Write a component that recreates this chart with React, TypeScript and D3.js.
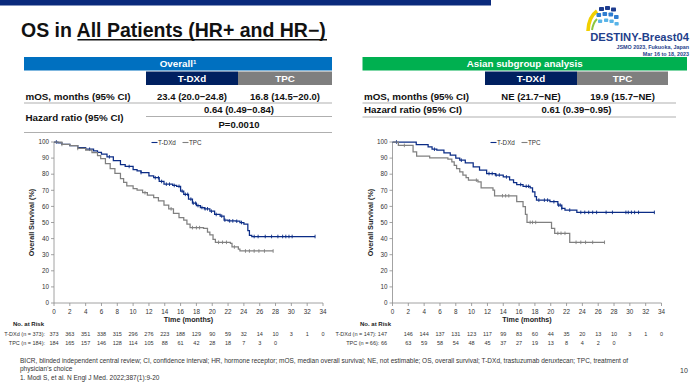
import React from "react";
import * as d3 from "d3";

const FONT = "'Liberation Sans', Arial, Helvetica, sans-serif";
const NAVY = "#0b2c86";
const GREY = "#808080";

const timeTicks = [0, 2, 4, 6, 8, 10, 12, 14, 16, 18, 20, 22, 24, 26, 28, 30, 32, 34];
const survTicks = [0, 10, 20, 30, 40, 50, 60, 70, 80, 90, 100];

// overall population, T-DXd (months / % alive)
const allTdxdTime = [0, 0.5, 1, 2, 3, 4, 5, 5.5, 6, 6.7, 7.5, 8.4, 9, 10, 10.5, 11, 12, 12.6, 13.3, 13.9, 15, 15.5, 16, 16.4, 17, 17.5, 18, 18.5, 19, 19.7, 20.3, 21, 21.5, 22, 23, 23.5, 24, 24.5, 24.7, 25];
const allTdxdSurv = [100, 99.5, 98.5, 97.8, 96.5, 95.5, 94.5, 93.5, 92.5, 90.8, 88.5, 86, 84.8, 82.8, 82, 81, 79, 77.8, 75.5, 73.8, 73, 72.5, 69.5, 67.5, 64.5, 62, 60.5, 59.3, 58.5, 57, 55, 54, 51.5, 51, 50.8, 50, 49, 45, 42, 41.3];
const allTdxdCensor = [0.3, 4.5, 7, 9.5, 11, 12.8, 13.2, 13.6, 14.2, 14.6, 15.2, 15.8, 16.2, 16.6, 16.9, 17.3, 17.6, 17.9, 18.2, 18.7, 19.1, 19.4, 19.9, 20.5, 21.2, 21.6, 22.2, 22.6, 23.1, 23.7, 25.3, 25.8, 26.7, 27.5, 28.3, 28.9, 29.3, 29.7, 30.1, 33];

// overall population, TPC
const allTpcTime = [0, 1, 2, 3, 4, 4.8, 5.5, 5.9, 6.5, 7.1, 7.7, 8.4, 8.8, 9.2, 10, 10.5, 11.2, 11.8, 12.6, 13.2, 13.9, 14.5, 15.1, 15.8, 16.4, 16.8, 17.2, 18.9, 19.4, 19.7, 20.1, 20.4, 22.3, 22.5, 23.3, 23.5];
const allTpcSurv = [100, 98.5, 97.8, 96, 95, 93.4, 91.5, 89.7, 86.5, 83.5, 80.5, 77.3, 75, 72.8, 71, 70.1, 68.5, 67, 65.4, 63.5, 60.8, 58.5, 55.7, 53, 51.5, 49, 46.8, 46.4, 44, 42.3, 39.5, 37.7, 37.1, 34.8, 33.5, 32.3];
const allTpcCensor = [1, 3, 11.5, 14.8, 17.5, 18, 18.4, 20.8, 21.3, 21.8, 22.8, 24.2, 24.7, 25.3, 25.9, 26.6, 27.7];

// Asian subgroup, T-DXd
const asiaTdxdTime = [0, 3, 4.5, 5, 5.6, 6.5, 7.3, 8, 8.5, 9.2, 10.2, 11, 11.9, 13, 14, 14.8, 15.3, 15.7, 16.5, 17.4, 17.7, 18, 18.2, 19.9, 20.9, 21.4, 21.8, 23.3];
const asiaTdxdSurv = [100, 98.4, 96.9, 95.5, 94.9, 93.2, 91.8, 90, 88.7, 87, 84.5, 82.5, 80.4, 79.5, 78.3, 76.5, 74.8, 73.6, 72.5, 71.5, 69, 66, 63.9, 62.9, 60.8, 58.8, 57.7, 56.3];
const asiaTdxdCensor = [0.5, 5.3, 8.7, 12.2, 12.6, 13.1, 13.5, 14.4, 16.2, 16.9, 17.2, 18.5, 19.2, 19.6, 20.4, 21, 21.2, 21.4, 22.4, 23.8, 24.3, 24.8, 25.3, 25.8, 27, 27.8, 29.5, 29.8, 30.2, 30.6, 31.1, 33.1];

// Asian subgroup, TPC
const asiaTpcTime = [0, 0.74, 2.6, 3.05, 4.7, 7, 7.5, 7.8, 8.1, 8.5, 8.9, 9.3, 9.6, 10.8, 11.2, 12.7, 12.9, 15.7, 16.5, 16.8, 17, 20.1, 20.5, 22.4];
const asiaTpcSurv = [100, 97.9, 93.8, 91.3, 90.1, 89.3, 87.6, 85.5, 83.5, 81.5, 79.4, 77.8, 76.3, 75.3, 71.5, 70.1, 66.6, 62.9, 59.8, 55, 50.1, 46.4, 43.3, 37.7];
const asiaTpcCensor = [1.5, 10.6, 13.9, 14.3, 14.7, 17.4, 17.7, 18.1, 20.9, 21.3, 21.8, 23.2, 23.8, 24.4, 25.3, 26.8];

const allTdxdRisk = [373, 363, 351, 338, 315, 296, 276, 223, 188, 129, 90, 59, 32, 14, 10, 3, 1, 0];
const allTpcRisk = [184, 165, 157, 146, 128, 114, 105, 88, 61, 42, 28, 18, 7, 3, 0];
const asiaTdxdRisk = [147, 146, 144, 137, 131, 123, 117, 99, 83, 60, 44, 35, 20, 13, 10, 3, 1, 0];
const asiaTpcRisk = [66, 63, 59, 58, 54, 48, 45, 37, 27, 19, 13, 8, 4, 2, 0];

type Curve = { time: number[]; surv: number[]; censor: number[]; color: string };

function survAt(c: Curve, t: number) {
  const i = d3.bisectRight(c.time, t) - 1;
  return c.surv[Math.max(0, i)];
}

function KmPanel(props: {
  x0: number;
  x1: number;
  curves: Curve[];
  risk: { label: string; values: number[] }[];
  legendX: number;
  yTitleX: number;
  noRiskX: number;
  labelEnd: number;
  joinFirst: boolean;
}) {
  const { x0, x1, curves, risk, legendX, yTitleX, noRiskX, labelEnd, joinFirst } = props;
  const x = d3.scaleLinear().domain([0, 34]).range([x0, x1]);
  const y = d3.scaleLinear().domain([0, 100]).range([303, 142]);
  const line = d3
    .line<[number, number]>()
    .x((d) => x(d[0]))
    .y((d) => y(d[1]))
    .curve(d3.curveStepAfter);
  const axisCol = "#8c8c8c";

  return (
    <g fontFamily={FONT}>
      {/* y axis */}
      <line x1={x0} x2={x0} y1={y(0)} y2={y(100)} stroke={axisCol} strokeWidth={0.8} />
      {survTicks.map((v) => (
        <g key={v}>
          <line x1={x0 - 3} x2={x0} y1={y(v)} y2={y(v)} stroke={axisCol} strokeWidth={0.8} />
          <text x={x0 - 5} y={y(v)} dy="0.35em" textAnchor="end" fontSize={6.3} fill="#333">
            {v}
          </text>
        </g>
      ))}
      {/* x axis */}
      <line x1={x0} x2={x1} y1={y(0)} y2={y(0)} stroke={axisCol} strokeWidth={0.8} />
      {timeTicks.map((t) => (
        <g key={t}>
          <line x1={x(t)} x2={x(t)} y1={y(0)} y2={y(0) + 3} stroke={axisCol} strokeWidth={0.8} />
          <text x={x(t)} y={y(0) + 8.5} dy="0.35em" textAnchor="middle" fontSize={6.3} fill="#333">
            {t}
          </text>
        </g>
      ))}
      <text x={(x0 + x1) / 2} y={319} dy="0.35em" textAnchor="middle" fontSize={7.2} fontWeight="bold" fill="#222">
        Time (months)
      </text>
      <text
        transform={`translate(${yTitleX},${(y(0) + y(100)) / 2}) rotate(-90)`}
        dy="0.35em"
        textAnchor="middle"
        fontSize={7.2}
        fontWeight="bold"
        fill="#222"
      >
        Overall Survival (%)
      </text>

      {/* curves */}
      {curves.map((c, k) => {
        const pts: [number, number][] = c.time.map((t, i) => [t, c.surv[i]]);
        const end = d3.max(c.censor) as number;
        pts.push([end, c.surv[c.surv.length - 1]]);
        return (
          <g key={k}>
            <path d={line(pts) || ""} fill="none" stroke={c.color} strokeWidth={1.25} />
            {c.censor.map((t, i) => (
              <line
                key={i}
                x1={x(t)}
                x2={x(t)}
                y1={y(survAt(c, t)) - 1.8}
                y2={y(survAt(c, t)) + 1.8}
                stroke={c.color}
                strokeWidth={0.9}
              />
            ))}
          </g>
        );
      })}

      {/* legend */}
      <g fontSize={6.3} fill="#333">
        <line x1={legendX} x2={legendX + 6} y1={142.5} y2={142.5} stroke={NAVY} strokeWidth={1.1} />
        <text x={legendX + 6.5} y={142.5} dy="0.35em">T-DXd</text>
        <line x1={legendX + 31} x2={legendX + 37} y1={142.5} y2={142.5} stroke={GREY} strokeWidth={1.1} />
        <text x={legendX + 37.5} y={142.5} dy="0.35em">TPC</text>
      </g>

      {/* numbers at risk */}
      <text x={noRiskX} y={324} dy="0.35em" fontSize={6} fontWeight="bold" fill="#222">
        No. at Risk
      </text>
      {risk.map((row, r) => {
        const ry = 334.5 + r * 9;
        return (
          <g key={r} fontSize={5.5} fill="#333">
            {joinFirst ? (
              <text x={labelEnd} y={ry} dy="0.35em" textAnchor="end">
                {`${row.label} ${row.values[0]}`}
              </text>
            ) : (
              <text x={labelEnd} y={ry} dy="0.35em" textAnchor="end">
                {row.label}
              </text>
            )}
            {row.values.map((v, i) =>
              joinFirst && i === 0 ? null : (
                <text key={i} x={x(timeTicks[i])} y={ry} dy="0.35em" textAnchor="middle">
                  {v}
                </text>
              )
            )}
          </g>
        );
      })}
    </g>
  );
}

function ResultTable(props: {
  x0: number;
  x1: number;
  c1: number;
  c2: number;
  c3: number;
  lineEnd: number;
  header: string;
  headerSup?: string;
  headerCol: string;
  mos: [string, string];
  hr: string;
  p?: string;
}) {
  const { x0, x1, c1, c2, c3, lineEnd, header, headerSup, headerCol, mos, hr, p } = props;
  const mid = (c1 + c3) / 2;
  return (
    <g fontFamily={FONT} fontWeight="bold">
      <rect x={x0} y={57} width={x1 - x0} height={13.5} fill={headerCol} />
      <text x={(x0 + x1) / 2} y={63.8} dy="0.35em" textAnchor="middle" fontSize={9.8} fill="#fff">
        {header}
        {headerSup ? <tspan fontSize={6} dy="-3.5">{headerSup}</tspan> : null}
      </text>
      <rect x={c1} y={71.5} width={c2 - c1} height={13.5} fill="#002060" />
      <rect x={c2} y={71.5} width={c3 - c2} height={13.5} fill="#7f7f7f" />
      <text x={(c1 + c2) / 2} y={78.3} dy="0.35em" textAnchor="middle" fontSize={9.8} fill="#fff">
        T-DXd
      </text>
      <text x={(c2 + c3) / 2} y={78.3} dy="0.35em" textAnchor="middle" fontSize={9.8} fill="#fff">
        TPC
      </text>
      <text x={x0 + 1.5} y={96.5} dy="0.35em" fontSize={9.8} fill="#111">
        mOS, months (95% CI)
      </text>
      <text x={(c1 + c2) / 2} y={96.5} dy="0.35em" textAnchor="middle" fontSize={9.5} fill="#111">
        {mos[0]}
      </text>
      <text x={(c2 + c3) / 2} y={96.5} dy="0.35em" textAnchor="middle" fontSize={9.5} fill="#111">
        {mos[1]}
      </text>
      <line x1={x0} x2={lineEnd} y1={103} y2={103} stroke="#a6a6a6" strokeWidth={0.9} />
      {p ? (
        <>
          <text x={x0 + 1.5} y={117.5} dy="0.35em" fontSize={9.8} fill="#111">
            Hazard ratio (95% CI)
          </text>
          <text x={mid} y={109.5} dy="0.35em" textAnchor="middle" fontSize={9.5} fill="#111">
            {hr}
          </text>
          <line x1={c1} x2={lineEnd} y1={116.5} y2={116.5} stroke="#a6a6a6" strokeWidth={0.9} />
          <text x={mid} y={124.8} dy="0.35em" textAnchor="middle" fontSize={9.5} fill="#111">
            {p}
          </text>
          <line x1={x0} x2={lineEnd} y1={132.5} y2={132.5} stroke="#a6a6a6" strokeWidth={0.9} />
        </>
      ) : (
        <>
          <text x={x0 + 1.5} y={110} dy="0.35em" fontSize={9.8} fill="#111">
            Hazard ratio (95% CI)
          </text>
          <text x={mid} y={110} dy="0.35em" textAnchor="middle" fontSize={9.5} fill="#111">
            {hr}
          </text>
          <line x1={x0} x2={lineEnd} y1={117} y2={117} stroke="#a6a6a6" strokeWidth={0.9} />
        </>
      )}
    </g>
  );
}

function Logo() {
  const navyBlocks: [number, number][] = [[599, 7], [605, 6], [611, 7.5]];
  const midBlocks: [number, number][] = [[596.5, 13], [602.5, 12], [608.5, 12.5], [614, 15]];
  const lightBlocks: [number, number][] = [[598, 19.5], [604, 18.5], [609.5, 19.5], [614.5, 22]];
  return (
    <g>
      <path d="M588,31 Q588.5,17 597,11" fill="none" stroke="#f2d000" strokeWidth={3.6} />
      <path d="M592,30 Q593,23 597,19" fill="none" stroke="#8cc63f" strokeWidth={2} />
      {navyBlocks.map(([bx, by], i) => (
        <rect key={"n" + i} x={bx} y={by} width={5} height={4} rx={0.8} fill="#1d3c8f" />
      ))}
      {midBlocks.map(([bx, by], i) => (
        <rect key={"m" + i} x={bx} y={by} width={4.6} height={4} rx={0.8} fill="#2f7dd1" />
      ))}
      {lightBlocks.map(([bx, by], i) => (
        <rect key={"l" + i} x={bx} y={by} width={4.2} height={3.6} rx={0.8} fill="#59b4e8" />
      ))}
      <text x={689} y={37.5} dy="0.35em" textAnchor="end" fontSize={11.2} fontWeight="bold" fill="#1f3f8c" fontFamily={FONT}>
        DESTINY-Breast04
      </text>
      <text x={689} y={47.5} dy="0.35em" textAnchor="end" fontSize={5.4} fontWeight="bold" fill="#1f3f8c" fontFamily={FONT}>
        JSMO 2023, Fukuoka, Japan
      </text>
      <text x={689} y={54} dy="0.35em" textAnchor="end" fontSize={5.4} fontWeight="bold" fill="#1f3f8c" fontFamily={FONT}>
        Mar 16 to 18, 2023
      </text>
    </g>
  );
}

export default function App() {
  const allCurves: Curve[] = [
    { time: allTdxdTime, surv: allTdxdSurv, censor: allTdxdCensor, color: NAVY },
    { time: allTpcTime, surv: allTpcSurv, censor: allTpcCensor, color: GREY },
  ];
  const asiaCurves: Curve[] = [
    { time: asiaTdxdTime, surv: asiaTdxdSurv, censor: asiaTdxdCensor, color: NAVY },
    { time: asiaTpcTime, surv: asiaTpcSurv, censor: asiaTpcCensor, color: GREY },
  ];

  return (
    <div style={{ position: "fixed", left: 0, top: 0 }}>
      <svg width={693} height={390} style={{ display: "block", background: "#fff" }}>
        <rect x={0} y={0} width={491} height={5.5} fill="#0a2a7c" />
        <text x={21} y={37} fontFamily={FONT} fontSize={19.5} fontWeight="bold" fill="#111">
          OS in All Patients (HR+ and HR−)
        </text>
        <line x1={77.5} x2={327} y1={39.8} y2={39.8} stroke="#111" strokeWidth={1.4} />
        <Logo />

        <ResultTable
          x0={24}
          x1={332}
          c1={146}
          c2={238}
          c3={332}
          lineEnd={332}
          header="Overall"
          headerSup="1"
          headerCol="#0070c0"
          mos={["23.4 (20.0−24.8)", "16.8 (14.5−20.0)"]}
          hr="0.64 (0.49−0.84)"
          p="P=0.0010"
        />
        <ResultTable
          x0={362.5}
          x1={687}
          c1={485}
          c2={577}
          c3={668}
          lineEnd={676}
          header="Asian subgroup analysis"
          headerCol="#00b050"
          mos={["NE (21.7−NE)", "19.9 (15.7−NE)"]}
          hr="0.61 (0.39−0.95)"
        />

        <KmPanel
          x0={54}
          x1={323}
          curves={allCurves}
          risk={[
            { label: "T-DXd (n = 373):", values: allTdxdRisk },
            { label: "TPC (n = 184):", values: allTpcRisk },
          ]}
          legendX={151.5}
          yTitleX={31.5}
          noRiskX={13}
          labelEnd={45}
          joinFirst={false}
        />
        <KmPanel
          x0={392.5}
          x1={661.5}
          curves={asiaCurves}
          risk={[
            { label: "T-DXd (n = 147):", values: asiaTdxdRisk },
            { label: "TPC (n = 66):", values: asiaTpcRisk },
          ]}
          legendX={490.5}
          yTitleX={370.5}
          noRiskX={360}
          labelEnd={387}
          joinFirst={true}
        />

        <g fontFamily={FONT} fill="#333" fontSize={6.5}>
          <text x={20} y={363}>
            BICR, blinded independent central review; CI, confidence interval; HR, hormone receptor; mOS, median overall survival; NE, not estimable; OS, overall survival; T-DXd, trastuzumab deruxtecan; TPC, treatment of
          </text>
          <text x={20} y={370.5}>physician’s choice</text>
          <text x={20} y={380}>1. Modi S, et al. N Engl J Med. 2022;387(1):9-20</text>
        </g>
        <text x={684} y={373} textAnchor="middle" fontFamily={FONT} fontSize={7} fill="#333">
          10
        </text>
      </svg>
    </div>
  );
}
